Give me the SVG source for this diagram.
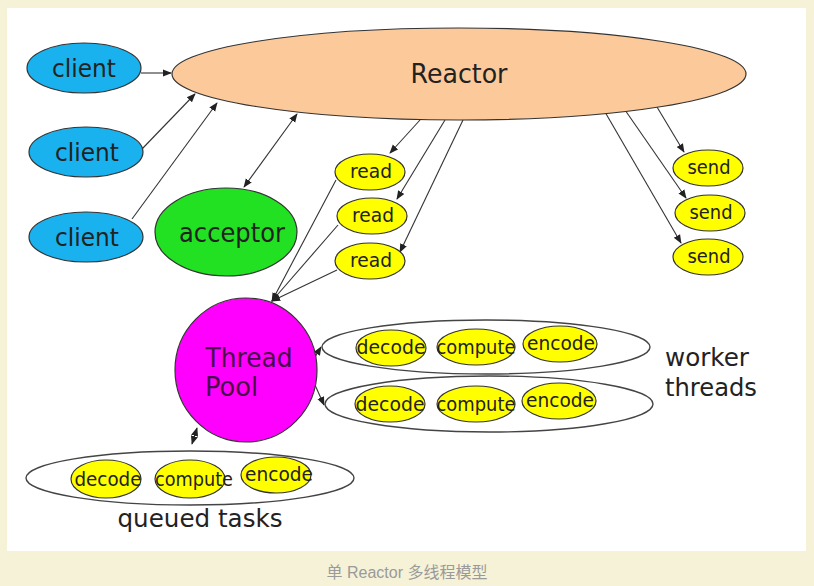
<svg xmlns="http://www.w3.org/2000/svg" width="814" height="586" viewBox="0 0 814 586">
<defs>
<marker id="ah" viewBox="0 0 10 10" refX="9" refY="5" markerWidth="9" markerHeight="9" markerUnits="userSpaceOnUse" orient="auto-start-reverse">
<path d="M0,1 L10,5 L0,9 z" fill="#222"/>
</marker>
</defs>
<style>
text{font-family:"DejaVu Sans","Liberation Sans",sans-serif;fill:#222;text-anchor:middle}
.n{stroke:#333;stroke-width:1.2}
.c{fill:#19b2ee}
.y{fill:#ffff00}
.g{fill:none;stroke:#444;stroke-width:1.4}
.l{fill:none;stroke:#333;stroke-width:1.1}
.s18{font-size:19px}
.s24{font-size:25px}
</style>
<rect x="0" y="0" width="814" height="586" fill="#f5f2d7"/>
<rect x="7" y="8" width="799" height="543" fill="#ffffff"/>

<g id="connectors">
<line class="l" x1="141" y1="73" x2="171" y2="73" marker-end="url(#ah)"/>
<line class="l" x1="142" y1="149" x2="195" y2="94" marker-end="url(#ah)"/>
<line class="l" x1="132" y1="219" x2="217" y2="103" marker-end="url(#ah)"/>
<line class="l" x1="244" y1="187" x2="297" y2="114" marker-start="url(#ah)" marker-end="url(#ah)"/>
<line class="l" x1="420" y1="120" x2="390" y2="153" marker-end="url(#ah)"/>
<line class="l" x1="445" y1="120" x2="397" y2="199" marker-end="url(#ah)"/>
<line class="l" x1="463" y1="120" x2="400" y2="252" marker-end="url(#ah)"/>
<line class="l" x1="336" y1="180" x2="272" y2="301" marker-end="url(#ah)"/>
<line class="l" x1="338" y1="225" x2="272" y2="301" marker-end="url(#ah)"/>
<line class="l" x1="337" y1="270" x2="272" y2="301" marker-end="url(#ah)"/>
<line class="l" x1="657" y1="107" x2="684" y2="152" marker-end="url(#ah)"/>
<line class="l" x1="625" y1="110" x2="686" y2="198" marker-end="url(#ah)"/>
<line class="l" x1="605" y1="112" x2="681" y2="243" marker-end="url(#ah)"/>
<line class="l" x1="315" y1="357" x2="321" y2="347" marker-end="url(#ah)"/>
<line class="l" x1="315" y1="385" x2="324" y2="405" marker-end="url(#ah)"/>
<line class="l" x1="197" y1="428" x2="192" y2="444" marker-start="url(#ah)" marker-end="url(#ah)"/>
</g>

<g id="reactor">
<ellipse class="n" cx="459" cy="74" rx="287" ry="46" fill="#fcc99a"/>
<text x="459" y="83" font-size="27" textLength="97" lengthAdjust="spacingAndGlyphs">Reactor</text>
</g>
<g id="client1">
<ellipse class="n c" cx="84" cy="68" rx="57" ry="25"/>
<text x="84" y="77" class="s24" textLength="64" lengthAdjust="spacingAndGlyphs">client</text>
</g>
<g id="client2">
<ellipse class="n c" cx="86" cy="152" rx="57" ry="25"/>
<text x="87" y="161" class="s24" textLength="64" lengthAdjust="spacingAndGlyphs">client</text>
</g>
<g id="client3">
<ellipse class="n c" cx="86" cy="237" rx="57" ry="25"/>
<text x="87" y="246" class="s24" textLength="64" lengthAdjust="spacingAndGlyphs">client</text>
</g>
<g id="acceptor">
<ellipse class="n" cx="226" cy="232" rx="71" ry="44" fill="#22e022"/>
<text x="232" y="242" font-size="27" textLength="106" lengthAdjust="spacingAndGlyphs">acceptor</text>
</g>
<g id="read1">
<ellipse class="n y" cx="370" cy="172" rx="35" ry="18"/>
<text x="371" y="178" class="s18" textLength="42" lengthAdjust="spacingAndGlyphs">read</text>
</g>
<g id="read2">
<ellipse class="n y" cx="372" cy="216" rx="35" ry="18"/>
<text x="373" y="222" class="s18" textLength="42" lengthAdjust="spacingAndGlyphs">read</text>
</g>
<g id="read3">
<ellipse class="n y" cx="370" cy="261" rx="35" ry="18"/>
<text x="371" y="267" class="s18" textLength="42" lengthAdjust="spacingAndGlyphs">read</text>
</g>
<g id="send1">
<ellipse class="n y" cx="708" cy="168" rx="35" ry="18"/>
<text x="709" y="174" class="s18" textLength="43" lengthAdjust="spacingAndGlyphs">send</text>
</g>
<g id="send2">
<ellipse class="n y" cx="710" cy="213" rx="35" ry="18"/>
<text x="711" y="219" class="s18" textLength="43" lengthAdjust="spacingAndGlyphs">send</text>
</g>
<g id="send3">
<ellipse class="n y" cx="708" cy="257" rx="35" ry="18"/>
<text x="709" y="263" class="s18" textLength="43" lengthAdjust="spacingAndGlyphs">send</text>
</g>
<g id="threadpool">
<ellipse class="n" cx="246" cy="370" rx="71" ry="72" fill="#ff00ff"/>
<text x="249" y="367" font-size="27" style="fill:#4a0a4a" textLength="87" lengthAdjust="spacingAndGlyphs">Thread</text>
<text x="205" y="396" font-size="27" style="fill:#4a0a4a;text-anchor:start" textLength="53" lengthAdjust="spacingAndGlyphs">Pool</text>
</g>
<g id="worker1">
<ellipse class="g" cx="486" cy="347" rx="164" ry="27"/>
<ellipse class="n y" cx="391" cy="348" rx="35" ry="18"/>
<ellipse class="n y" cx="476" cy="347" rx="39" ry="18"/>
<ellipse class="n y" cx="560" cy="344" rx="37" ry="18"/>
<text x="391" y="354" class="s18" textLength="69" lengthAdjust="spacingAndGlyphs">decode</text>
<text x="476" y="354" class="s18" textLength="79" lengthAdjust="spacingAndGlyphs">compute</text>
<text x="561" y="350" class="s18" textLength="68" lengthAdjust="spacingAndGlyphs">encode</text>
</g>
<g id="worker2">
<ellipse class="g" cx="489" cy="404" rx="164" ry="28"/>
<ellipse class="n y" cx="390" cy="404" rx="35" ry="18"/>
<ellipse class="n y" cx="476" cy="404" rx="39" ry="18"/>
<ellipse class="n y" cx="559" cy="401" rx="37" ry="18"/>
<text x="390" y="411" class="s18" textLength="69" lengthAdjust="spacingAndGlyphs">decode</text>
<text x="476" y="411" class="s18" textLength="79" lengthAdjust="spacingAndGlyphs">compute</text>
<text x="560" y="407" class="s18" textLength="68" lengthAdjust="spacingAndGlyphs">encode</text>
</g>
<g id="queued">
<ellipse class="g" cx="190" cy="478" rx="164" ry="27"/>
<ellipse class="n y" cx="106" cy="479" rx="35" ry="19"/>
<ellipse class="n y" cx="190" cy="479" rx="35" ry="19"/>
<ellipse class="n y" cx="276" cy="475" rx="35" ry="18"/>
<text x="108" y="486" class="s18" textLength="67" lengthAdjust="spacingAndGlyphs">decode</text>
<text x="194" y="486" class="s18" textLength="78" lengthAdjust="spacingAndGlyphs">compute</text>
<text x="279" y="481" class="s18" textLength="68" lengthAdjust="spacingAndGlyphs">encode</text>
</g>
<g id="labels">
<text x="200" y="527" class="s24" textLength="165" lengthAdjust="spacingAndGlyphs">queued tasks</text>
<text x="665" y="366" class="s24" style="text-anchor:start" textLength="84" lengthAdjust="spacingAndGlyphs">worker</text>
<text x="665" y="396" class="s24" style="text-anchor:start" textLength="92" lengthAdjust="spacingAndGlyphs">threads</text>
<text x="407" y="578" font-size="16" style="fill:#9a9a9a;font-family:'Liberation Sans','Noto Sans CJK SC',sans-serif">单 Reactor 多线程模型</text>
</g>
</svg>
